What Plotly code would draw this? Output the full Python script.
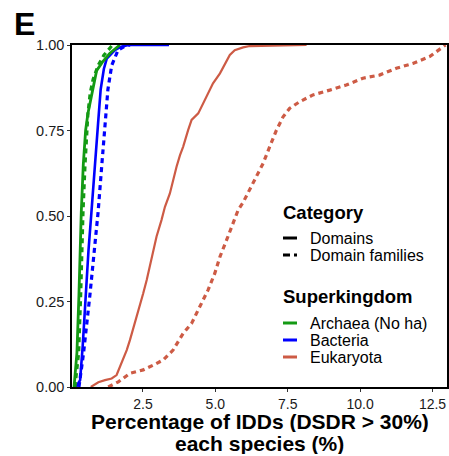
import plotly.graph_objects as go

# ---- data ----
archaea_dom_x = [0.12, 0.22, 0.29, 0.33, 0.37, 0.44, 0.52, 0.60, 0.67, 0.75, 0.90, 1.10, 1.35, 1.70]
archaea_dom_y = [0.0, 0.10, 0.27, 0.40, 0.51, 0.65, 0.75, 0.80, 0.83, 0.87, 0.925, 0.95, 0.975, 1.0]
archaea_fam_x = [0.15, 0.28, 0.35, 0.39, 0.43, 0.50, 0.55, 0.60, 0.68, 0.78, 0.95, 1.15, 1.45]
archaea_fam_y = [0.0, 0.10, 0.27, 0.40, 0.51, 0.65, 0.72, 0.80, 0.86, 0.90, 0.94, 0.97, 1.0]

bacteria_dom_x = [0.19, 0.33, 0.42, 0.52, 0.62, 0.72, 0.83, 0.95, 1.04, 1.15, 1.25, 1.40, 1.53, 1.75, 2.0, 3.4]
bacteria_dom_y = [0.0, 0.02, 0.12, 0.27, 0.40, 0.51, 0.65, 0.77, 0.87, 0.93, 0.96, 0.975, 0.985, 0.995, 1.0, 1.0]
bacteria_fam_x = [0.29, 0.45, 0.67, 0.82, 0.95, 1.08, 1.20, 1.29, 1.42, 1.55, 1.64, 1.85, 2.05]
bacteria_fam_y = [0.0, 0.10, 0.27, 0.40, 0.51, 0.65, 0.77, 0.87, 0.94, 0.97, 0.985, 0.995, 1.0]

eukaryota_dom_x = [0.70, 0.96, 1.19, 1.42, 1.59, 1.71, 1.85, 1.94, 2.05, 2.22, 2.40, 2.51, 2.63, 2.74,
                   2.86, 2.97, 3.14, 3.26, 3.43, 3.54, 3.66, 3.78, 3.89, 4.06, 4.18, 4.41, 4.70, 4.92,
                   5.16, 5.33, 5.50, 5.67, 5.96, 6.19, 8.15]
eukaryota_dom_y = [0.0, 0.014, 0.02, 0.025, 0.035, 0.059, 0.089, 0.108, 0.137, 0.186, 0.235, 0.274, 0.313,
                   0.352, 0.40, 0.44, 0.488, 0.527, 0.566, 0.605, 0.644, 0.678, 0.703, 0.751, 0.781, 0.80,
                   0.849, 0.888, 0.917, 0.946, 0.971, 0.985, 0.993, 0.997, 1.0]
eukaryota_fam_x = [1.30, 1.65, 2.05, 2.51, 2.86, 3.2, 3.54, 3.89, 4.18, 4.47, 4.75, 4.98, 5.16, 5.39, 5.56,
                   5.79, 5.96, 6.30, 6.65, 6.88, 7.11, 7.34, 7.57, 7.91, 8.37, 8.95, 9.52, 10.1, 10.67,
                   11.25, 11.82, 12.4, 12.95]
eukaryota_fam_y = [0.0, 0.015, 0.04, 0.05, 0.064, 0.079, 0.108, 0.157, 0.186, 0.235, 0.284, 0.332, 0.381,
                   0.43, 0.47, 0.518, 0.54, 0.596, 0.654, 0.703, 0.751, 0.79, 0.815, 0.834, 0.854, 0.868,
                   0.883, 0.903, 0.912, 0.932, 0.946, 0.966, 1.0]

x_ticks = [2.5, 5.0, 7.5, 10.0, 12.5]
x_tick_labels = ["2.5", "5.0", "7.5", "10.0", "12.5"]
y_ticks = [0.0, 0.25, 0.5, 0.75, 1.0]
y_tick_labels = ["0.00", "0.25", "0.50", "0.75", "1.00"]

x_title_lines = ["Percentage of IDDs (DSDR > 30%)", "each species (%)"]
category_labels = ["Domains", "Domain families"]
kingdom_labels = ["Archaea (No ha)", "Bacteria", "Eukaryota"]

GREEN = "#149a14"
BLUE = "#0000ff"
RED = "#cd5b45"
FONT = "Liberation Sans, Arial, sans-serif"
DASH = "5px,4px"

fig = go.Figure()

series = [
    (eukaryota_fam_x, eukaryota_fam_y, RED, DASH, 3.2),
    (eukaryota_dom_x, eukaryota_dom_y, RED, "solid", 2.2),
    (bacteria_fam_x, bacteria_fam_y, BLUE, DASH, 3.2),
    (bacteria_dom_x, bacteria_dom_y, BLUE, "solid", 2.6),
    (archaea_fam_x, archaea_fam_y, GREEN, DASH, 3.2),
    (archaea_dom_x, archaea_dom_y, GREEN, "solid", 2.8),
]
for xs, ys, col, dash, w in series:
    fig.add_trace(go.Scatter(x=xs, y=ys, mode="lines", showlegend=False, hoverinfo="skip",
                             line=dict(color=col, dash=dash, width=w)))

L, R, T, B = 72, 2, 45, 69
W, H = 449, 456
pw, ph = W - L - R, H - T - B

def px(x):
    return (x - L) / pw

def py(y):
    return (H - B - y) / ph

annotations = []
shapes = []

# Panel letter
annotations.append(dict(text="<b>E</b>", x=px(24), y=py(24), xref="paper", yref="paper",
                        showarrow=False, font=dict(family=FONT, size=32, color="black"),
                        xanchor="center", yanchor="middle"))

# X axis title (two lines, tight spacing as in the reference)
for yy, line in zip([421, 443], x_title_lines):
    annotations.append(dict(text="<b>" + line + "</b>", x=px(259.5), y=py(yy), xref="paper", yref="paper",
                            showarrow=False, font=dict(family=FONT, size=21, color="black"),
                            height=21, valign="middle",
                            xanchor="center", yanchor="middle"))

# Manual legend
key_x0, key_x1, text_x = 283, 297, 308
annotations.append(dict(text="<b>Category</b>", x=px(281), y=py(212), xref="paper", yref="paper",
                        showarrow=False, font=dict(family=FONT, size=18.5, color="black"),
                        xanchor="left", yanchor="middle"))
cat_rows = [(238, "solid"), (255, "7px,4px")]
for (yy, dsh), lab in zip(cat_rows, category_labels):
    shapes.append(dict(type="line", xref="paper", yref="paper", x0=px(key_x0), x1=px(key_x1),
                       y0=py(yy), y1=py(yy), line=dict(color="black", width=3, dash=dsh)))
    annotations.append(dict(text=lab, x=px(text_x), y=py(yy), xref="paper", yref="paper",
                            showarrow=False, font=dict(family=FONT, size=16, color="black"),
                            xanchor="left", yanchor="middle"))

annotations.append(dict(text="<b>Superkingdom</b>", x=px(281), y=py(296), xref="paper", yref="paper",
                        showarrow=False, font=dict(family=FONT, size=18.5, color="black"),
                        xanchor="left", yanchor="middle"))
for yy, col, lab in zip([323, 340, 357], [GREEN, BLUE, RED], kingdom_labels):
    shapes.append(dict(type="line", xref="paper", yref="paper", x0=px(key_x0), x1=px(key_x1),
                       y0=py(yy), y1=py(yy), line=dict(color=col, width=3)))
    annotations.append(dict(text=lab, x=px(text_x), y=py(yy), xref="paper", yref="paper",
                            showarrow=False, font=dict(family=FONT, size=16, color="black"),
                            xanchor="left", yanchor="middle"))

fig.update_layout(
    width=W, height=H,
    margin=dict(l=L, r=R, t=T, b=B, autoexpand=False),
    paper_bgcolor="white", plot_bgcolor="white",
    showlegend=False,
    annotations=annotations, shapes=shapes,
    xaxis=dict(range=[0.05, 13.0], tickvals=x_ticks, ticktext=x_tick_labels, automargin=False,
               showgrid=False, zeroline=False, showline=True, linecolor="black", linewidth=1.5,
               mirror=True, ticks="outside", ticklen=3, tickcolor="#333333", tickwidth=1,
               tickfont=dict(family=FONT, size=14, color="#1a1a1a")),
    yaxis=dict(range=[0, 1], tickvals=y_ticks, ticktext=y_tick_labels, automargin=False,
               showgrid=False, zeroline=False, showline=True, linecolor="black", linewidth=1.5,
               mirror=True, ticks="outside", ticklen=3, tickcolor="#333333", tickwidth=1,
               tickfont=dict(family=FONT, size=14.5, color="#1a1a1a")),
)

fig.write_html("out.html")
